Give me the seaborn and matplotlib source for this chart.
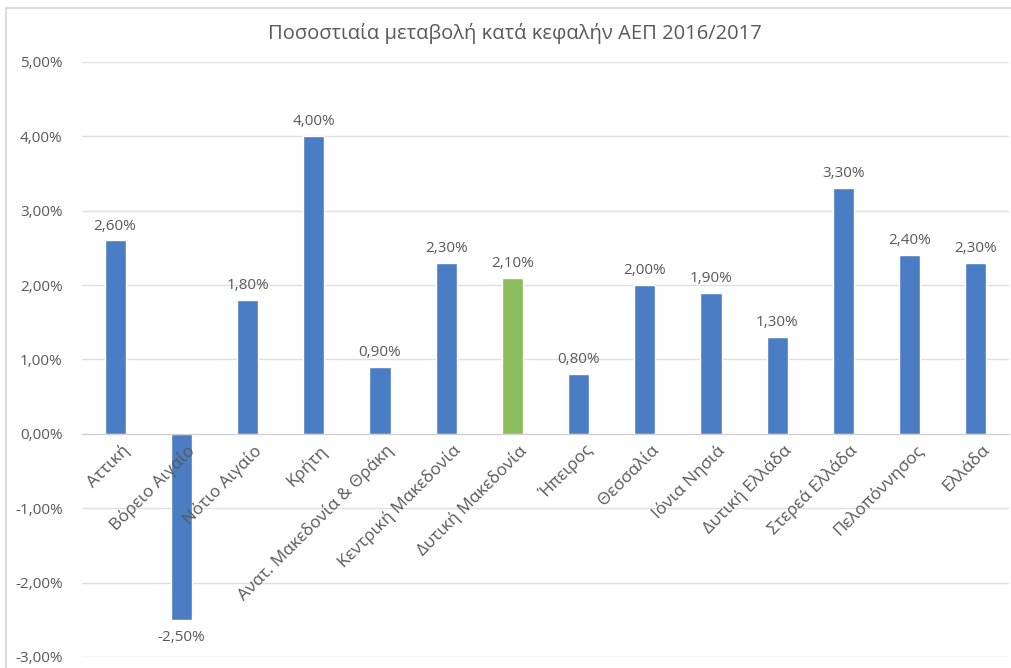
import matplotlib
matplotlib.use("Agg")
import matplotlib.pyplot as plt
import seaborn as sns
import pandas as pd
from matplotlib.patches import Rectangle
from matplotlib.ticker import FuncFormatter

# Data
regions = ['Αττική', 'Βόρειο Αιγαίο', 'Νότιο Αιγαίο', 'Κρήτη',
           'Ανατ. Μακεδονία & Θράκη', 'Κεντρική Μακεδονία', 'Δυτική Μακεδονία',
           'Ήπειρος', 'Θεσσαλία', 'Ιόνια Νησιά', 'Δυτική Ελλάδα',
           'Στερεά Ελλάδα', 'Πελοπόννησος', 'Ελλάδα']
changes = [2.6, -2.5, 1.8, 4.0, 0.9, 2.3, 2.1, 0.8, 2.0, 1.9, 1.3, 3.3, 2.4, 2.3]
highlight = 'Δυτική Μακεδονία'
title = 'Ποσοστιαία μεταβολή κατά κεφαλήν ΑΕΠ 2016/2017'

BLUE = '#4a7dc3'
GREEN = '#8cbd5c'
TEXT = '#595959'

sns.set_style('white')
plt.rcParams['font.family'] = ['Open Sans', 'DejaVu Sans']

df = pd.DataFrame({'region': regions, 'change': changes})
palette = {r: (GREEN if r == highlight else BLUE) for r in regions}

fig = plt.figure(figsize=(10.11, 6.68), dpi=100)
ax = fig.add_axes([82 / 1011, 1 - 657 / 668, (1009 - 82) / 1011, (657 - 62) / 668])

sns.barplot(data=df, x='region', y='change', hue='region', palette=palette,
            width=0.32, legend=False, ax=ax, saturation=1, zorder=2)

ax.set_ylim(-3, 5)
ax.set_xlim(-0.5, len(regions) - 0.5)
ax.set_yticks(range(-3, 6))
ax.yaxis.set_major_formatter(FuncFormatter(lambda v, p: f'{v:.2f}%'.replace('.', ',')))
ax.grid(axis='y', color='#e0e0e0', linewidth=1)
ax.set_axisbelow(True)
for s in ['top', 'right', 'left']:
    ax.spines[s].set_visible(False)
ax.spines['bottom'].set_position(('data', 0))
ax.spines['bottom'].set_color('#d0d0d0')
ax.tick_params(axis='both', length=0, colors=TEXT, labelsize=11)
ax.tick_params(axis='y', pad=14)
ax.set_xlabel('')
ax.set_ylabel('')
ax.set_xticklabels([])

# category labels drawn above the bars
for i, r in enumerate(regions):
    ax.annotate(r, (i, 0), xytext=(4, -6), textcoords='offset points',
                rotation=45, ha='right', va='top', rotation_mode='anchor',
                fontsize=12.3, color=TEXT, zorder=5)

# value labels
for i, v in enumerate(changes):
    lbl = f'{v:.2f}%'.replace('.', ',')
    if v >= 0:
        ax.annotate(lbl, (i, v), xytext=(0, 5), textcoords='offset points',
                    ha='center', va='bottom', fontsize=11, color=TEXT)
    else:
        ax.annotate(lbl, (i, v), xytext=(0, -7), textcoords='offset points',
                    ha='center', va='top', fontsize=11, color=TEXT)

fig.text(515 / 1011, 1 - 33 / 668, title, ha='center', va='center',
         fontsize=14.5, color=TEXT)

# outer chart frame
fig.patches.append(Rectangle((6 / 1011, -0.01), 1.1, 1 - 8 / 668 + 0.01,
                             transform=fig.transFigure, fill=False,
                             edgecolor='#d4d4d4', linewidth=1.2))

fig.savefig('out.png', dpi=100)
